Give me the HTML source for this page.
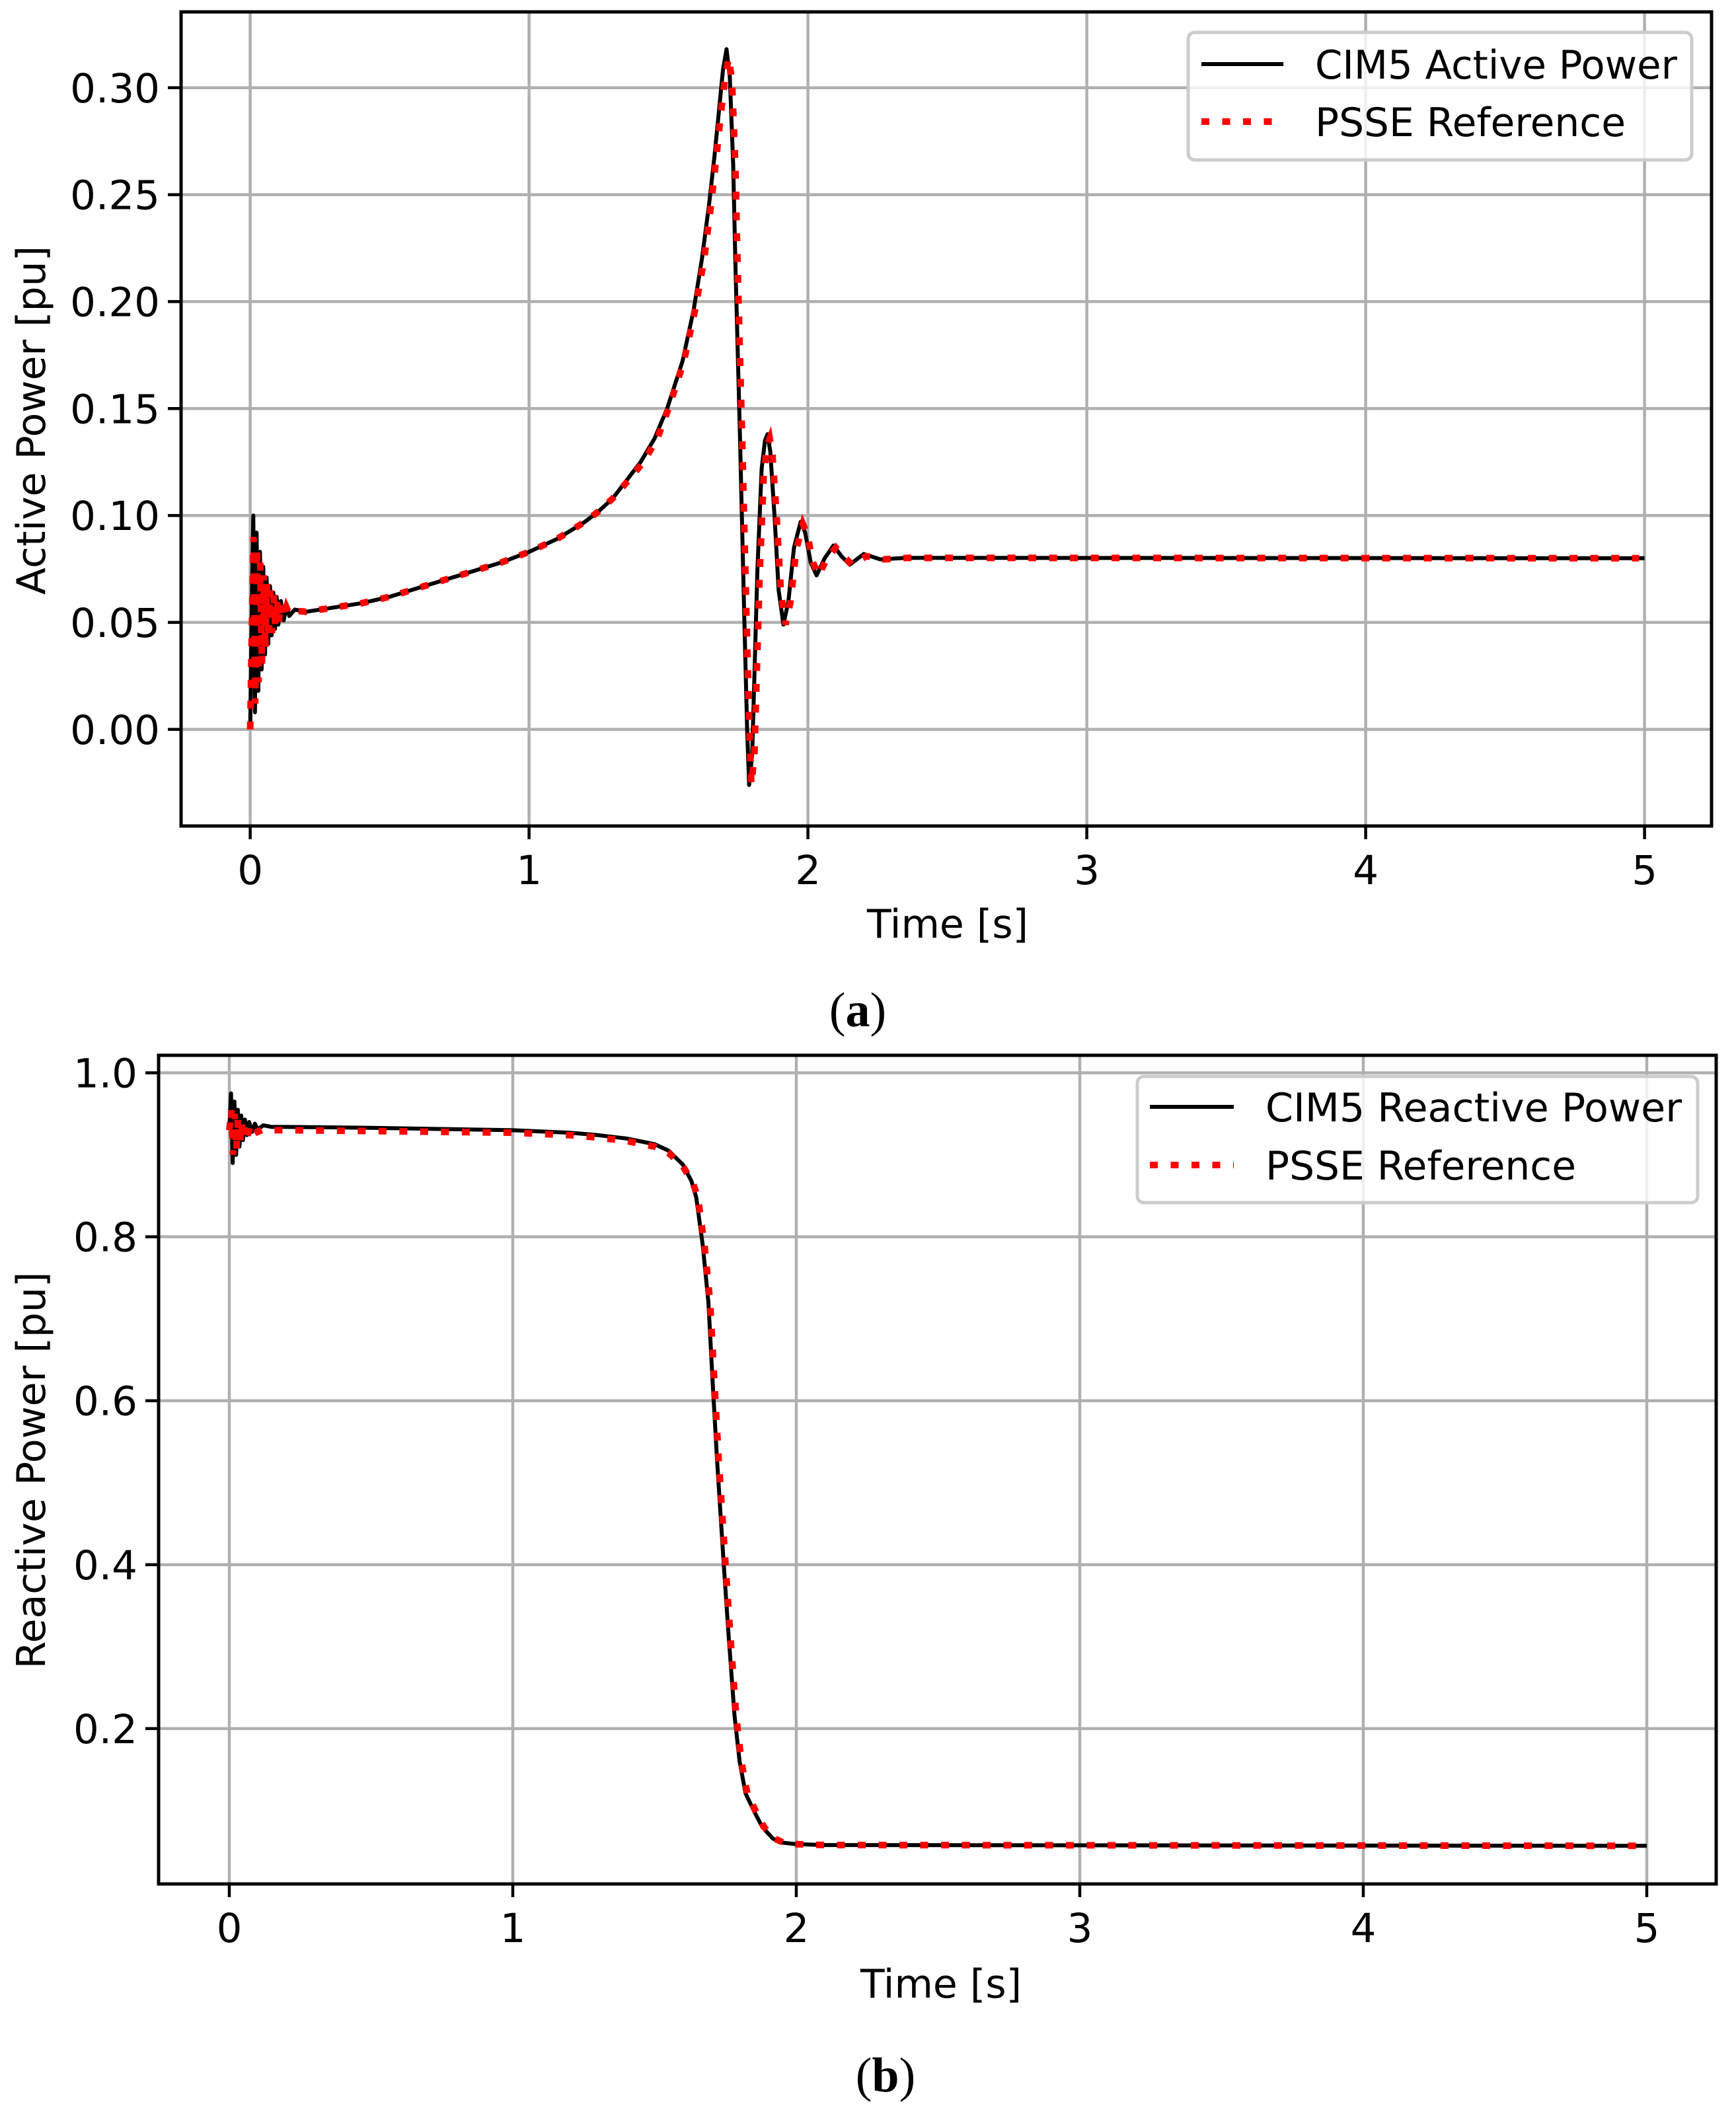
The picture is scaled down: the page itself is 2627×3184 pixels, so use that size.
<!DOCTYPE html>
<html><head><meta charset="utf-8">
<style>
html,body{margin:0;padding:0;background:#fff;}
svg{display:block;}
text{font-family:"DejaVu Sans","Liberation Sans",sans-serif;fill:#000;}
.cap{font-family:"Liberation Serif",serif;}
</style></head>
<body>
<svg id="fig" xmlns="http://www.w3.org/2000/svg" width="2627" height="3184" viewBox="0 0 2627 3184">
<rect width="2627" height="3184" fill="#fff"/>
<defs>
<clipPath id="clipA"><rect x="274" y="18" width="2316" height="1232"/></clipPath>
<clipPath id="clipB"><rect x="240" y="1597" width="2357" height="1254"/></clipPath>
</defs>
<g id="plotA"></g>
<g id="plotB"></g>
<text class="cap" x="1298" y="1553" font-size="74" text-anchor="middle">(<tspan font-weight="bold">a</tspan>)</text>
<text class="cap" x="1340" y="3165" font-size="74" text-anchor="middle">(<tspan font-weight="bold">b</tspan>)</text>
</svg>
<script>
// ---- Chart A data ----
const aXTicks = [0, 1, 2, 3, 4, 5];
const aYTicks = [0.00, 0.05, 0.10, 0.15, 0.20, 0.25, 0.30];
const aYTickLabels = ["0.00", "0.05", "0.10", "0.15", "0.20", "0.25", "0.30"];
const aCimTime = [0,0.006,0.011,0.017,0.023,0.029,0.035,0.041,0.047,0.053,0.059,0.065,0.071,0.077,0.083,0.089,0.095,0.101,0.11,0.12,0.13,0.14,0.16,0.2,0.3,0.4,0.5,0.6,0.7,0.8,0.9,1.0,1.1,1.2,1.25,1.3,1.353,1.4,1.45,1.495,1.55,1.59,1.62,1.645,1.665,1.68,1.695,1.708,1.72,1.732,1.74,1.756,1.772,1.782,1.789,1.8,1.819,1.834,1.846,1.855,1.865,1.88,1.895,1.912,1.93,1.95,1.974,1.99,2.01,2.031,2.06,2.092,2.12,2.15,2.2,2.26,2.35,5.0];
const aCimValue = [0.0,0.06,0.100,0.008,0.092,0.018,0.083,0.028,0.076,0.035,0.071,0.040,0.067,0.044,0.064,0.047,0.062,0.049,0.060,0.051,0.058,0.053,0.056,0.055,0.057,0.059,0.062,0.066,0.070,0.074,0.078,0.083,0.089,0.097,0.102,0.108,0.117,0.125,0.136,0.150,0.172,0.196,0.220,0.245,0.268,0.288,0.308,0.318,0.305,0.264,0.217,0.139,0.051,0.0,-0.026,-0.012,0.075,0.122,0.135,0.138,0.130,0.100,0.065,0.049,0.060,0.085,0.097,0.092,0.078,0.072,0.080,0.086,0.081,0.077,0.082,0.0795,0.0802,0.080];
const aPsseTime = [0,0.007,0.012,0.018,0.024,0.030,0.036,0.042,0.048,0.054,0.060,0.066,0.072,0.078,0.084,0.090,0.096,0.102,0.11,0.12,0.13,0.14,0.16,0.2,0.3,0.4,0.5,0.6,0.7,0.8,0.9,1.0,1.1,1.2,1.25,1.3,1.36,1.41,1.46,1.5,1.555,1.595,1.628,1.652,1.672,1.688,1.703,1.716,1.728,1.74,1.748,1.764,1.78,1.79,1.797,1.808,1.827,1.842,1.854,1.863,1.873,1.888,1.903,1.92,1.938,1.958,1.982,1.998,2.018,2.039,2.068,2.1,2.128,2.158,2.21,2.27,2.36,4.98];
const aPsseValue = [0.0,0.055,0.090,0.012,0.085,0.022,0.078,0.030,0.072,0.037,0.068,0.042,0.065,0.045,0.063,0.048,0.061,0.050,0.059,0.052,0.057,0.054,0.0555,0.055,0.057,0.059,0.062,0.066,0.070,0.074,0.078,0.083,0.089,0.097,0.102,0.108,0.117,0.125,0.136,0.150,0.172,0.196,0.220,0.245,0.268,0.288,0.305,0.314,0.303,0.262,0.215,0.137,0.050,0.0,-0.026,-0.012,0.073,0.12,0.133,0.136,0.128,0.099,0.064,0.049,0.060,0.084,0.096,0.091,0.078,0.072,0.080,0.085,0.081,0.077,0.081,0.0795,0.0802,0.080];

// ---- Chart B data ----
const bXTicks = [0, 1, 2, 3, 4, 5];
const bYTicks = [0.2, 0.4, 0.6, 0.8, 1.0];
const bYTickLabels = ["0.2", "0.4", "0.6", "0.8", "1.0"];
const bCimTime = [0,0.006,0.012,0.018,0.024,0.030,0.036,0.042,0.048,0.055,0.062,0.07,0.08,0.09,0.1,0.12,0.15,0.2,0.5,1.0,1.2,1.3,1.4,1.5,1.55,1.6,1.63,1.647,1.67,1.69,1.705,1.72,1.743,1.76,1.782,1.8,1.821,1.85,1.88,1.917,1.95,2.0,2.1,5.0];
const bCimValue = [0.93,0.975,0.89,0.965,0.90,0.955,0.91,0.948,0.918,0.943,0.924,0.940,0.928,0.938,0.931,0.936,0.934,0.934,0.933,0.930,0.927,0.924,0.920,0.913,0.905,0.888,0.868,0.848,0.79,0.72,0.623,0.53,0.407,0.32,0.216,0.16,0.121,0.10,0.08,0.066,0.061,0.059,0.058,0.057];
const bPsseTime = [0,0.007,0.013,0.019,0.025,0.031,0.037,0.043,0.05,0.057,0.064,0.072,0.082,0.092,0.1,0.12,0.15,0.2,0.5,1.0,1.2,1.3,1.4,1.5,1.55,1.6,1.635,1.653,1.676,1.696,1.711,1.726,1.749,1.766,1.788,1.806,1.827,1.856,1.886,1.922,1.955,2.0,2.1,5.0];
const bPsseValue = [0.93,0.955,0.90,0.95,0.905,0.945,0.912,0.94,0.918,0.935,0.922,0.933,0.926,0.932,0.928,0.931,0.930,0.930,0.929,0.927,0.924,0.921,0.917,0.910,0.902,0.886,0.866,0.848,0.79,0.72,0.623,0.53,0.407,0.32,0.216,0.16,0.121,0.10,0.08,0.066,0.061,0.059,0.058,0.057];

const NS = "http://www.w3.org/2000/svg";
function mk(parent, tag, attrs, txt) {
  const e = document.createElementNS(NS, tag);
  for (const k in attrs) e.setAttribute(k, attrs[k]);
  if (txt !== undefined) e.textContent = txt;
  parent.appendChild(e);
  return e;
}

function drawChart(cfg) {
  const g = document.getElementById(cfg.id);
  const L = cfg.left, R = cfg.right, T = cfg.top, B = cfg.bottom;
  const sx = v => L + (v - cfg.xmin) / (cfg.xmax - cfg.xmin) * (R - L);
  const sy = v => B - (v - cfg.ymin) / (cfg.ymax - cfg.ymin) * (B - T);
  cfg.xTicks.forEach(t => {
    const l = mk(g, "line", {x1: sx(t), x2: sx(t), y1: T, y2: B, stroke: "#b0b0b0", "stroke-width": 4.5});
    
    
  });
  cfg.yTicks.forEach(t => {
    const l = mk(g, "line", {x1: L, x2: R, y1: sy(t), y2: sy(t), stroke: "#b0b0b0", "stroke-width": 4.5});
    
    
  });
  const pathOf = (ts, vs) => ts.map((t, i) => (i ? "L" : "M") + sx(t).toFixed(1) + " " + sy(vs[i]).toFixed(1)).join(" ");
  const blk = mk(g, "path", {d: pathOf(cfg.t1, cfg.v1), fill: "none", stroke: "#000", "stroke-width": 6, "stroke-linejoin": "round", "clip-path": cfg.clip});
  
  
  const red = mk(g, "path", {d: pathOf(cfg.t2, cfg.v2), fill: "none", stroke: "#ff0000", "stroke-width": 10, "stroke-dasharray": "12 19.5", "clip-path": cfg.clip});
  
  
  const fr = mk(g, "rect", {x: L, y: T, width: R - L, height: B - T, fill: "none", stroke: "#000", "stroke-width": 5});
  
  
  cfg.xTicks.forEach(t => {
    mk(g, "line", {x1: sx(t), x2: sx(t), y1: B, y2: B + 20, stroke: "#000", "stroke-width": 4.5});
    const tx = mk(g, "text", {x: sx(t), y: cfg.xTickBase, "font-size": 61, "text-anchor": "middle"}, String(t));
    
    
  });
  cfg.yTicks.forEach((t, i) => {
    mk(g, "line", {x1: L - 20, x2: L, y1: sy(t), y2: sy(t), stroke: "#000", "stroke-width": 4.5});
    const tx = mk(g, "text", {x: L - 32, y: sy(t) + 22, "font-size": 61, "text-anchor": "end"}, cfg.yLabels[i]);
    
    
  });
  const xl = mk(g, "text", {x: cfg.xLabelX, y: cfg.xLabelY, "font-size": 60, "text-anchor": "middle"}, "Time [s]");
  
  
  const yl = mk(g, "text", {x: 0, y: 0, "font-size": 60, "text-anchor": "middle", transform: `translate(${cfg.yLabelX},${cfg.yLabelY}) rotate(-90)`}, cfg.yTitle);
  
  
  const lg = mk(g, "g", {});
  
  
  const b = cfg.legend;
  mk(lg, "rect", {x: b.x, y: b.y, width: b.w, height: b.h, rx: 10, fill: "#fff", "fill-opacity": 0.8, stroke: "#cccccc", "stroke-width": 5});
  const e1 = mk(lg, "g", {});
  
  
  mk(e1, "line", {x1: b.lx1, x2: b.lx2, y1: b.r1, y2: b.r1, stroke: "#000", "stroke-width": 6});
  mk(e1, "text", {x: b.tx, y: b.r1 + 22, "font-size": 60, textLength: b.tl1, lengthAdjust: "spacingAndGlyphs"}, cfg.name1);
  const e2 = mk(lg, "g", {});
  
  
  mk(e2, "line", {x1: b.lx1, x2: b.lx2, y1: b.r2, y2: b.r2, stroke: "#ff0000", "stroke-width": 10, "stroke-dasharray": "12 19.5"});
  mk(e2, "text", {x: b.tx, y: b.r2 + 22, "font-size": 60, textLength: b.tl2, lengthAdjust: "spacingAndGlyphs"}, "PSSE Reference");
}

drawChart({
  id: "plotA", clip: "url(#clipA)",
  left: 274, right: 2590, top: 18, bottom: 1250,
  xmin: -0.2479, xmax: 5.2403, ymin: -0.04518, ymax: 0.33546,
  xTicks: aXTicks, yTicks: aYTicks, yLabels: aYTickLabels,
  t1: aCimTime, v1: aCimValue, t2: aPsseTime, v2: aPsseValue,
  xTickBase: 1338, xLabelX: 1434, xLabelY: 1419,
  yLabelX: 68, yLabelY: 636, yTitle: "Active Power [pu]",
  name1: "CIM5 Active Power",
  legend: {x: 1798, y: 49, w: 762, h: 193, lx1: 1818, lx2: 1942, r1: 97, r2: 184, tx: 1990, tl1: 548, tl2: 470}
});
drawChart({
  id: "plotB", clip: "url(#clipB)",
  left: 240, right: 2597, top: 1597, bottom: 2851,
  xmin: -0.2494, xmax: 5.2448, ymin: 0.0105, ymax: 1.0214,
  xTicks: bXTicks, yTicks: bYTicks, yLabels: bYTickLabels,
  t1: bCimTime, v1: bCimValue, t2: bPsseTime, v2: bPsseValue,
  xTickBase: 2939, xLabelX: 1424, xLabelY: 3023,
  yLabelX: 68, yLabelY: 2225, yTitle: "Reactive Power [pu]",
  name1: "CIM5 Reactive Power",
  legend: {x: 1721, y: 1629, w: 848, h: 191, lx1: 1740, lx2: 1867, r1: 1675, r2: 1763, tx: 1915, tl1: 630, tl2: 470}
});
</script>
</body></html>
